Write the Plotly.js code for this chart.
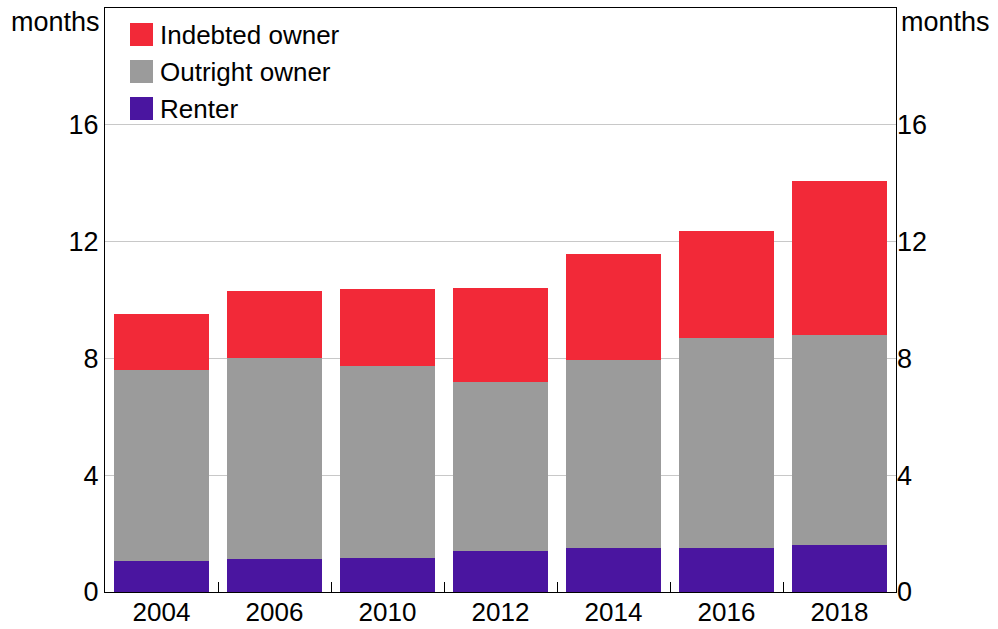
<!DOCTYPE html>
<html>
<head>
<meta charset="utf-8">
<script src="https://cdn.plot.ly/plotly-3.0.1.min.js"></script>
<style>html,body{margin:0;padding:0;background:#fff;}#chart{width:998px;height:629px;}</style>
</head>
<body>
<div id="chart"></div>
<script>
const years = ['2004','2006','2010','2012','2014','2016','2018'];
const renter = [1.05, 1.12, 1.18, 1.39, 1.49, 1.49, 1.61];
const outrightTop = [7.61, 8.02, 7.75, 7.20, 7.95, 8.71, 8.81];
const totalTop = [9.53, 10.31, 10.38, 10.42, 11.58, 12.37, 14.08];
const outright = outrightTop.map((v, i) => +(v - renter[i]).toFixed(2));
const indebted = totalTop.map((v, i) => +(v - outrightTop[i]).toFixed(2));
const seriesNames = ['Indebted owner', 'Outright owner', 'Renter'];
const seriesColors = ['#F22938', '#9B9B9B', '#4A15A0'];
const yTicks = [0, 4, 8, 12, 16];
const unitLabel = 'months';

const FONT = 'Liberation Sans, Arial, sans-serif';
const TICK_SIZE = 27;
const LEGEND_SIZE = 26;

const traces = [
  {type: 'bar', name: seriesNames[2], x: years, y: renter, marker: {color: seriesColors[2]}},
  {type: 'bar', name: seriesNames[1], x: years, y: outright, marker: {color: seriesColors[1]}},
  {type: 'bar', name: seriesNames[0], x: years, y: indebted, marker: {color: seriesColors[0]}},
  // invisible companion so the right-hand axis is drawn
  {type: 'scatter', mode: 'markers', x: years, y: totalTop, yaxis: 'y2',
    marker: {opacity: 0, size: 1}, hoverinfo: 'skip', showlegend: false}
];

const shapes = [];
const annotations = [];
const plotH = 629 - 8 - 37;
function pyFromPx(px) { return 1 - (px - 8) / plotH; }
const plotW = 998 - 105 - 102;
function pxFromPx(px) { return (px - 105) / plotW; }

seriesNames.forEach((name, i) => {
  const top = 23 + i * 37;
  shapes.push({type: 'rect', xref: 'paper', yref: 'paper',
    x0: pxFromPx(130), x1: pxFromPx(153), y0: pyFromPx(top + 23), y1: pyFromPx(top),
    fillcolor: seriesColors[i], line: {width: 0}});
  annotations.push({xref: 'paper', yref: 'paper', x: pxFromPx(158), y: pyFromPx(top + 11.5),
    xanchor: 'left', yanchor: 'middle', text: name, showarrow: false,
    font: {family: FONT, size: LEGEND_SIZE, color: '#000'}});
});
annotations.push({xref: 'paper', yref: 'paper', x: pxFromPx(102), y: pyFromPx(22),
  xanchor: 'right', yanchor: 'middle', text: unitLabel, showarrow: false,
  font: {family: FONT, size: TICK_SIZE, color: '#000'}});
annotations.push({xref: 'paper', yref: 'paper', x: pxFromPx(899), y: pyFromPx(22),
  xanchor: 'left', yanchor: 'middle', text: unitLabel, showarrow: false,
  font: {family: FONT, size: TICK_SIZE, color: '#000'}});

const layout = {
  width: 998, height: 629,
  margin: {l: 105, r: 102, t: 8, b: 37, pad: 0},
  paper_bgcolor: '#fff', plot_bgcolor: '#fff',
  barmode: 'stack', bargap: 0.16,
  showlegend: false,
  font: {family: FONT, size: TICK_SIZE, color: '#000'},
  xaxis: {type: 'category', tickson: 'boundaries', ticks: 'inside', ticklen: 10,
    tickcolor: '#000', tickwidth: 1, showline: true, linecolor: '#000', linewidth: 1,
    mirror: true, showgrid: false, tickfont: {size: 26}, ticklabelstandoff: -3,
    fixedrange: true},
  yaxis: {range: [0, 20], tickvals: yTicks, ticktext: yTicks.map(String),
    showgrid: true, gridcolor: '#C8C8C8', gridwidth: 1, showline: true, linecolor: '#000',
    linewidth: 1, mirror: true, ticks: '', tickfont: {size: TICK_SIZE}, zeroline: false},
  yaxis2: {range: [0, 20], tickvals: yTicks, ticktext: yTicks.map(String), overlaying: 'y',
    side: 'right', showgrid: false, ticks: '', tickfont: {size: TICK_SIZE}, zeroline: false,
    showline: false},
  shapes: shapes,
  annotations: annotations
};

Plotly.newPlot('chart', traces, layout, {displayModeBar: false, staticPlot: true});
</script>
</body>
</html>
